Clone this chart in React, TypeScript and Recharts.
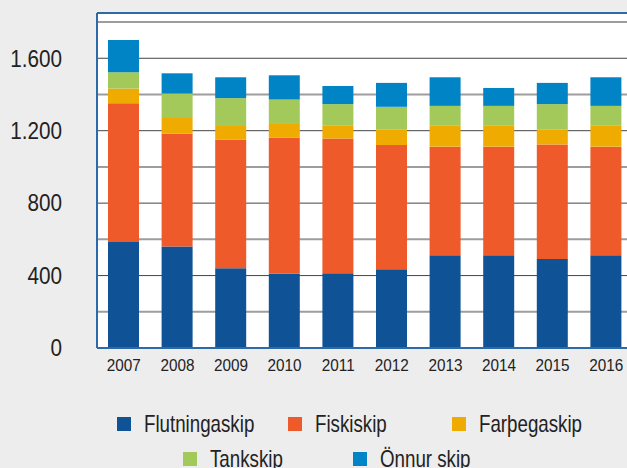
import { BarChart, Bar, XAxis, YAxis, CartesianGrid, ReferenceLine, Legend } from 'recharts';

const years = ['2007', '2008', '2009', '2010', '2011', '2012', '2013', '2014', '2015', '2016'];
const flutningaskip = [585, 560, 440, 410, 413, 435, 512, 512, 491, 512];
const fiskiskip = [767, 623, 712, 753, 744, 686, 600, 600, 633, 600];
const farthegaskip = [81, 87, 79, 79, 70, 84, 115, 115, 81, 115];
const tankskip = [90, 135, 149, 130, 120, 127, 110, 110, 142, 110];
const onnurSkip = [178, 112, 115, 134, 100, 132, 158, 99, 117, 158];
const yTicks = [0, 400, 800, 1200, 1600];
const darkGrid = [400, 800, 1200, 1600];
const lightGrid = [200, 600, 1000, 1400, 1800];

const series = [
  { key: 'flut', name: 'Flutningaskip', color: '#0f5396', values: flutningaskip },
  { key: 'fisk', name: 'Fiskiskip', color: '#ee5a2a', values: fiskiskip },
  { key: 'farp', name: 'Farþegaskip', color: '#efab00', values: farthegaskip },
  { key: 'tank', name: 'Tankskip', color: '#a3c95a', values: tankskip },
  { key: 'onn', name: 'Önnur skip', color: '#0084c6', values: onnurSkip },
];

const data = years.map((y, i) => {
  const row: any = { year: y };
  series.forEach(s => { row[s.key] = s.values[i]; });
  return row;
});

const FONT = "'Liberation Sans', Arial, sans-serif";
const BLUE = '#2d6aa9';

// squeezed text to fake the condensed face of the original
const YTick = ({ x, y, payload }: any) => (
  <text transform={`translate(${x},${y}) scale(0.9,1)`} textAnchor="end" dy="0.36em" fill="#222" fontSize={23} fontFamily={FONT}>
    {Number(payload.value).toLocaleString('de-DE')}
  </text>
);

const XTick = ({ x, y, payload }: any) => (
  <text transform={`translate(${x},${y}) scale(0.9,1)`} textAnchor="middle" dy="0.72em" fill="#222" fontSize={17} fontFamily={FONT}>
    {payload.value}
  </text>
);

// legend slots: marker left x and row
const slots = [
  { x: 117, row: 0 }, { x: 288, row: 0 }, { x: 452, row: 0 },
  { x: 183, row: 1 }, { x: 353, row: 1 },
];

const MyLegend = () => (
  <div style={{ position: 'relative', width: 627, height: 60, fontFamily: FONT }}>
    {series.map((s, i) => (
      <div key={s.key} style={{ position: 'absolute', left: slots[i].x, top: slots[i].row * 35, display: 'flex', alignItems: 'center', height: 26 }}>
        <span style={{ width: 14, height: 14, background: s.color, display: 'inline-block' }} />
        <span style={{ marginLeft: 13, fontSize: 24, color: '#222', whiteSpace: 'nowrap', display: 'inline-block', transform: 'scaleX(0.78)', transformOrigin: 'left center' }}>{s.name}</span>
      </div>
    ))}
  </div>
);

export default function App() {
  return (
    <div style={{ position: 'fixed', left: 0, top: 0, width: 627, height: 468, background: '#ededed', overflow: 'hidden' }}>
      <BarChart width={633} height={468} data={data} margin={{ top: 13, right: 0, left: 0, bottom: 90 }} barSize={31}>
        <CartesianGrid fill="#fff" vertical={false} horizontalValues={lightGrid} stroke="#9d9d9d" strokeWidth={2} />
        <CartesianGrid vertical={false} horizontalValues={darkGrid} stroke="#444" strokeWidth={1} />
        <ReferenceLine y={1850} stroke={BLUE} strokeWidth={2} />
        <XAxis dataKey="year" axisLine={{ stroke: BLUE, strokeWidth: 2 }} tickLine={false} tickSize={0} tickMargin={11} height={30}
          tick={<XTick />} interval={0} />
        <YAxis width={97} domain={[0, 1850]} ticks={yTicks} axisLine={{ stroke: BLUE, strokeWidth: 2 }} tickLine={false} tickSize={0} tickMargin={35}
          tick={<YTick />} />
        {series.map(s => (
          <Bar key={s.key} dataKey={s.key} name={s.name} stackId="a" fill={s.color} isAnimationActive={false} />
        ))}
        <Legend layout="horizontal" verticalAlign="middle" align="center" content={<MyLegend />}
          wrapperStyle={{ top: 411, left: 0, width: 627 }} />
      </BarChart>
    </div>
  );
}
